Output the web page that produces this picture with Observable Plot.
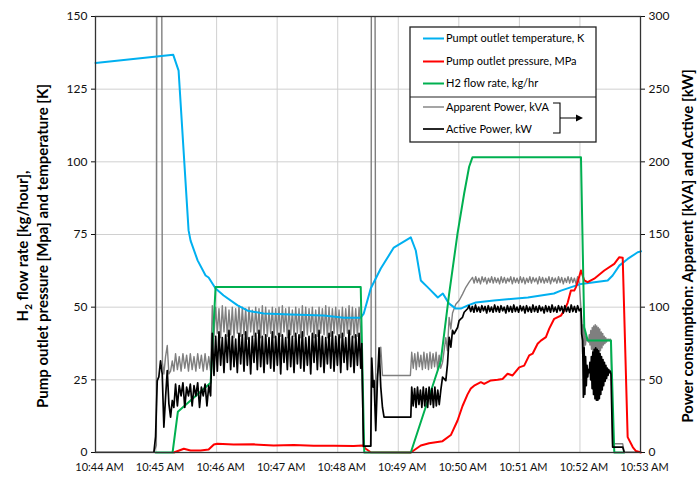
<!DOCTYPE html>
<html><head><meta charset="utf-8">
<script src="https://cdn.jsdelivr.net/npm/d3@7"></script>
<script src="https://cdn.jsdelivr.net/npm/@observablehq/plot@0.6"></script>
<style>
body{margin:0;background:#fff;overflow:hidden}
#chart{position:relative;width:699px;height:483px;overflow:hidden}
#chart > svg{display:block}
</style>
</head><body><div id="chart"></div>
<script>
// Times are minutes after 10:44 AM
const minuteTicks = [0,1,2,3,4,5,6,7,8,9];
const leftTicks = [0,25,50,75,100,125,150];       // left axis (K, MPa, kg/hr)
const rightTickFactor = 2;                         // right axis = power (kVA / kW), 0–300

// Pump outlet temperature, K  [minute, value]
const temperature = [[0,134],[1.284,136.8],[1.372,131.4],[1.537,76.4],[1.570,72.9],[1.686,66.1],[1.818,60.9],[1.868,60.2],[1.983,56.4],[2.116,54.0],[2.347,50.6],[2.512,48.8],[2.777,47.8],[3.223,47.5],[3.769,47.1],[4.099,46.4],[4.380,46.4],[4.430,47.8],[4.545,56.4],[4.711,63.3],[4.926,70.5],[5.207,74.0],[5.289,69.5],[5.372,59.2],[5.488,56.8],[5.653,53.3],[5.736,54.7],[5.835,51.3],[5.950,49.5],[6.033,49.5],[6.149,50.6],[6.281,51.6],[6.579,52.3],[7.140,53.3],[7.570,54.7],[7.686,55.7],[8.017,58.0],[8.458,59.2],[8.540,60.9],[8.650,64.3],[8.788,66.6],[8.954,68.9],[9.008,69.2]];

// Pump outlet pressure, MPa
const pressure = [[1.294,0],[1.459,1.3],[1.570,0.7],[1.736,0.7],[1.868,1.0],[1.955,2.75],[2.012,3.0],[2.281,2.75],[2.612,2.8],[2.942,2.4],[3.273,2.6],[3.603,2.3],[3.934,2.3],[4.264,2.2],[4.408,2.4],[4.463,1.3],[4.545,0.1],[5.207,0],[5.372,2.4],[5.509,3.2],[5.731,3.9],[5.868,6],[5.979,11],[6.061,16],[6.144,20],[6.198,22],[6.253,23],[6.364,24.2],[6.418,23.6],[6.529,24.8],[6.640,25],[6.722,25.3],[6.805,27.1],[6.888,26.5],[6.997,29.3],[7.079,29.9],[7.162,33.4],[7.218,34],[7.301,37.4],[7.355,38.5],[7.438,39.7],[7.493,42.6],[7.575,46],[7.686,47.1],[7.741,48.9],[7.797,51.5],[7.851,55.7],[7.906,55.7],[7.934,56.9],[7.962,58.6],[8.017,62.6],[8.071,59.2],[8.127,58.6],[8.236,59.8],[8.402,62.6],[8.567,64.9],[8.650,67.2],[8.706,67],[8.788,5.3],[8.874,1.8],[8.926,0.5],[9.008,0]];

// H2 flow rate, kg/hr
const flow = [[0.992,0],[1.273,0],[1.360,14],[1.901,24],[1.983,56.9],[4.380,56.9],[4.438,0],[5.207,0],[5.702,31.5],[5.840,54.6],[5.978,75.3],[6.088,89.1],[6.170,98.3],[6.226,101.6],[8.017,101.6],[8.071,43.1],[8.127,38.5],[8.512,38.5],[8.567,0],[8.732,0]];

// Apparent power, kVA: single readings [minute, value]
const apparentKnots = [[0,0],[0.964,0],[1.005,5],[1.015,420],[1.090,420],[1.105,62],[1.129,54],[1.157,66],[1.185,73.6],[1.212,54],[1.240,56],[1.268,63],[1.294,56],
  [4.397,60],[4.425,4.4],[4.550,4.4],[4.557,420],[4.612,420],[4.628,30],[4.656,54],[4.683,60],[4.711,72.5],[4.739,53],[5.200,53],
  [5.731,62],[5.785,79],[5.812,70],[5.840,93],[5.868,85],[5.896,96],[5.950,102],[6.005,104.6],[6.061,109],[6.116,113.7],[6.170,117.2],
  [8.540,6],[8.706,6],[8.732,0],[9.008,0]];
// Apparent power, kVA: rapid oscillation runs, readings spread over [from, to]
const apparentZ1 = [68,57,66,56,68,58,67,56,68,57,66,56,68,58,67,56,68,57,66,56];
const apparentZ2 = [101,80,100,82,99,79,101,83,100,80,98,81,100,79,99,82,101,80,100,81,
  99,78,100,83,98,80,100,82,99,79,101,81,100,80,98,82,100,79,99,81,
  100,80,101,83,99,79,100,81,98,80,100,82,99,79,101,80,100,81,99,83,
  100,79,98,80,100,82,99,81,101,79,100,80,99,82,100,81,98,79,100,80,
  99,82,101,81,100,79,99,80,100,82];
const apparentZ3 = [69,58,68,57,69,59,67,57,69,58,68,57,69,58,68,59,69,57,67,58];
const apparentZ4 = [120.5,116.5,121,117,120,116,121,117.5,120.5,116,120,117,121,116.5,120.5,117,120,116,121,117,
  120.5,116.5,120,117.5,121,116,120.5,117,120,116.5,121,117,120.5,116,120,117,121,116.5,120.5,117.5,
  120,116,121,117,120.5,116.5,120,117,121,116,120.5,117.5,120,116.5,121,117,120.5,116,120,117,
  121,116.5,120.5,117,120,116,121,117];
const apparentZ5 = [91,68,88,70,84,74,80,77,78,76,81,74,84,71,86,69,87,68,88,67,87,67,86,68,85,70,83,72,82,74,80,75,79,76,78,77,78,77,78,77];
const apparentRuns = [[1.322,1.901,apparentZ1],[1.929,4.380,apparentZ2],[5.222,5.700,apparentZ3],[6.226,7.988,apparentZ4],[8.030,8.512,apparentZ5]];

// Active power, kW
const activeKnots = [[0,0],[0.964,0],[0.992,11],[1.020,49.5],[1.046,52],[1.074,63],[1.102,54],[1.129,17.4],[1.157,38],[1.185,56.4],[1.212,33.5],[1.240,24.3],[1.268,35.8],[1.294,31],
  [4.397,75],[4.425,4.4],[4.545,4.4],[4.562,65],[4.585,45],[4.600,49.5],[4.628,15],[4.656,49.5],[4.683,72],[4.711,45],[4.739,31],[4.765,24.3],[5.207,24.3],
  [5.702,42.7],[5.731,51.8],[5.785,49.5],[5.813,61],[5.840,79.3],[5.868,72.5],[5.896,84],[5.922,81.7],[5.979,86],[6.005,90.8],[6.033,92],[6.061,93],[6.088,96.5],[6.144,98.9],
  [8.017,99],[8.028,81.7],
  [8.540,3.7],[8.706,3.7],[8.732,0],[9.008,0]];
const activeZ1 = [47,32,46,39,48,31,45,39,47,32,46,39,48,31,45,39,47,32,46,39];
const activeZ2 = [82,53,80,56,83,60,79,55,81,62,84,57,80,59,78,55,82,61,81,56,
  83,60,79,54,80,62,82,57,84,59,80,55,81,61,79,58,83,56,80,60,
  82,54,81,62,79,57,84,59,80,55,82,61,81,58,83,56,79,60,80,54,
  82,62,81,57,84,59,80,55,79,61,82,58,83,56,80,60,81,55,82,62,
  79,57,84,59,80,55,81,60,82,58];
const activeZ3 = [45,32,44,31,45,33,43,31,45,32,44,31,45,33,44,31,45,32,43,33];
const activeZ4 = [101,97,100.5,96.5,101.5,97,100,96.5,101,97.5,100.5,96,101,97,100,96.5,101.5,97,100.5,96.5,
  101,97.5,100,96,101,97,100.5,96.5,101.5,97,100,96.5,101,97.5,100.5,96,101,97,100,96.5,
  101.5,97,100.5,96.5,101,97.5,100,96,101,97,100.5,96.5,101.5,97,100,96.5,101,97.5,100.5,96,
  101,97,100,96.5,101.5,97,100.5,96.5,101,97.5];
const activeZ5 = [77,38,72,40,66,46,60,52,57,55,62,50,66,44,69,40,71,37,72,36,71,36,70,37,68,40,66,43,64,46,62,49,60,51,58,53,57,55,56,54];
const activeRuns = [[1.322,1.901,activeZ1],[1.929,4.380,activeZ2],[5.222,5.676,activeZ3],[6.170,7.988,activeZ4],[8.045,8.512,activeZ5]];

const legendLabels = ["Pumpt outlet temperature, K","Pump outlet pressure, MPa","H2 flow rate, kg/hr","Apparent Power, kVA","Active Power, kW"];
const seriesColors = ["#00b0f0","#ff0000","#00b050","#7f7f7f","#000000"];

// ---------- build ----------
const T0 = Date.UTC(2024,0,1,10,44);
const toDate = m => new Date(T0 + m*60000);
const expand = runs => runs.flatMap(([a,b,vals]) => vals.map((v,i) => [a + (b-a)*i/(vals.length-1), v]));
const apparent = [...apparentKnots, ...expand(apparentRuns)].sort((p,q)=>p[0]-q[0]);
const active = [...activeKnots, ...expand(activeRuns)].sort((p,q)=>p[0]-q[0]);
const xTicks = minuteTicks.map(toDate);

const X = d => toDate(d[0]);
const chart = Plot.plot({
  width: 699, height: 483,
  marginLeft: 95, marginRight: 59, marginTop: 16, marginBottom: 31,
  style: {fontFamily: "Lato, 'Liberation Sans', sans-serif", fontSize: "12px", color: "#111", background: "#fff"},
  x: {type: "utc", domain: [toDate(0), toDate(9)]},
  y: {domain: [0, 150]},
  marks: [
    Plot.gridX(xTicks, {stroke: "#d0d0d0", strokeOpacity: 1}),
    Plot.gridY(leftTicks, {stroke: "#d0d0d0", strokeOpacity: 1}),
    Plot.line(apparent, {x: X, y: d => d[1]/rightTickFactor, stroke: seriesColors[3], strokeWidth: 1.4, clip: true}),
    Plot.line(temperature, {x: X, y: d => d[1], stroke: seriesColors[0], strokeWidth: 2}),
    Plot.line(pressure, {x: X, y: d => d[1], stroke: seriesColors[1], strokeWidth: 2}),
    Plot.line(flow, {x: X, y: d => d[1], stroke: seriesColors[2], strokeWidth: 2}),
    Plot.line(active, {x: X, y: d => d[1]/rightTickFactor, stroke: seriesColors[4], strokeWidth: 1.7, clip: true}),
    Plot.frame({stroke: "#333", strokeWidth: 1.3}),
    Plot.axisY(leftTicks, {anchor: "left", tickSize: 4, tickPadding: 4, label: null, fontSize: 12}),
    Plot.axisY(leftTicks, {anchor: "right", tickSize: 4, tickPadding: 4, label: null, fontSize: 12, tickFormat: d => String(d*rightTickFactor)}),
    Plot.axisX(xTicks, {anchor: "bottom", tickSize: 0, tickPadding: 11, dx: 4, label: null, fontSize: 11, tickFormat: d3.utcFormat("%-I:%M %p")})
  ]
});
const root = document.getElementById("chart");
root.appendChild(chart);

// ---------- overlay: axis titles and legend ----------
const svg = d3.select(root).append("svg")
  .attr("width", 699).attr("height", 483)
  .style("position","absolute").style("left","0").style("top","0")
  .style("font-family","Lato, 'Liberation Sans', sans-serif");

const title = (x, y, parts) => {
  const t = svg.append("text").attr("transform", `translate(${x},${y}) rotate(-90)`)
    .attr("text-anchor","middle").attr("dy","0.35em")
    .attr("font-size", 15).attr("font-weight", 700).attr("fill","#000");
  parts.forEach(([s, sub]) => {
    const ts = t.append("tspan").text(s);
    if (sub) ts.attr("font-size", 10).attr("dy", 4);
    else if (t.selectAll("tspan").size() > 1) ts.attr("dy", -4);
  });
};
title(23, 246, [["H"],["2",true],[" flow rate [kg/hour],"]]);
title(43, 246, [["Pump outlet pressure [Mpa] and temperature [K]"]]);
title(688, 246, [["Power consumption: Apparent [kVA] and Active [kW]"]]);

const lg = svg.append("g");
lg.append("rect").attr("x",410).attr("y",27).attr("width",186).attr("height",115)
  .attr("fill","#fff").attr("stroke","#222").attr("stroke-width",1.3);
lg.append("line").attr("x1",410).attr("x2",596).attr("y1",97).attr("y2",97).attr("stroke","#222").attr("stroke-width",1.2);
const rowsY = [38.5, 61.5, 83.5, 107, 129];
const rowsW = [2, 2, 2, 1.4, 1.7];
legendLabels.forEach((lab, i) => {
  lg.append("line").attr("x1",423).attr("x2",444).attr("y1",rowsY[i]).attr("y2",rowsY[i])
    .attr("stroke", seriesColors[i]).attr("stroke-width", rowsW[i]);
  lg.append("text").attr("x",446).attr("y",rowsY[i]).attr("dy","0.35em")
    .attr("font-size",11).attr("fill","#000").text(lab);
});
lg.append("path").attr("d","M553,103 H560 V133 H553 M560,118 H577").attr("fill","none").attr("stroke","#000").attr("stroke-width",1.1);
lg.append("path").attr("d","M576,114.5 L583,118 L576,121.5 Z").attr("fill","#000");
</script>
</body></html>
